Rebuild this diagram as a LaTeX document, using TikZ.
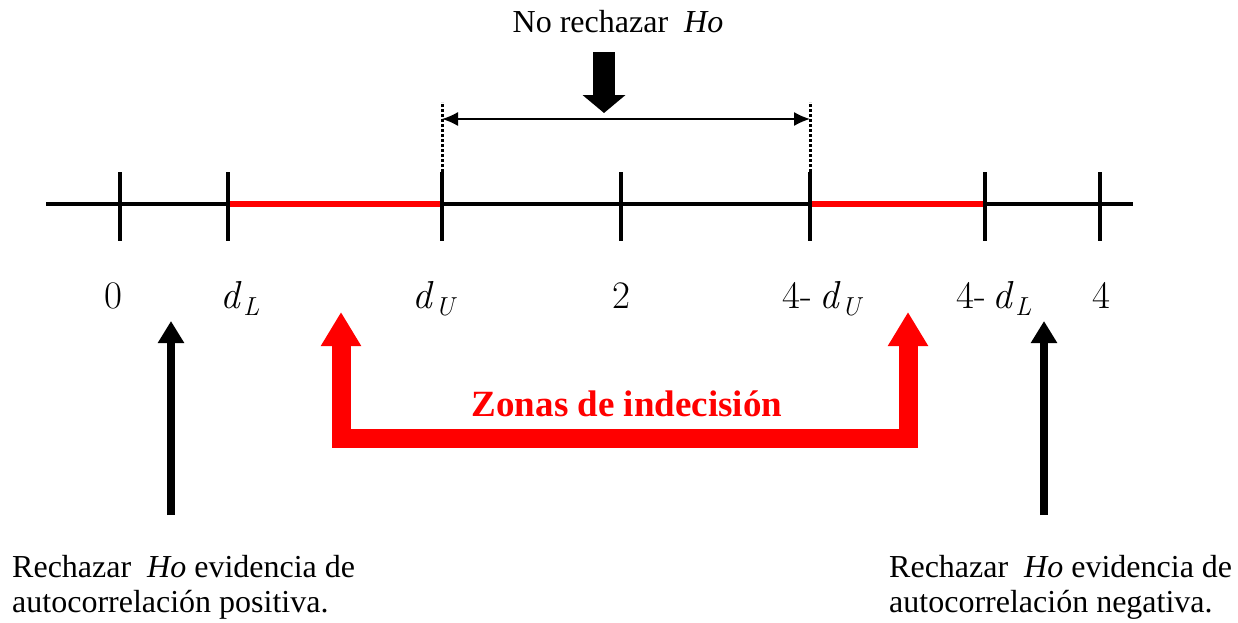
\documentclass[tikz,border=0pt]{standalone}
\usepackage{fontspec}
\usetikzlibrary{arrows.meta}
\newfontfamily\tnr{Liberation Serif}
\definecolor{zred}{RGB}{255,0,0}
\newcommand\dsub[1]{\textit{d}\kern1pt\raisebox{-7pt}{\fontsize{26}{26}\selectfont\textit{#1}}}
\begin{document}
\begin{tikzpicture}[x=1pt,y=-1pt,
  axisline/.style={line width=3.5pt},
  tickline/.style={line width=3.5pt},
  redseg/.style={line width=6.5pt,zred},
  dotline/.style={line width=3pt,dash pattern=on 3pt off 2pt},
  numlabel/.style={anchor=base,inner sep=0pt,font=\fontsize{39}{42}\selectfont},
  txt/.style={inner sep=0pt,font=\tnr\fontsize{32}{35.5}\selectfont,align=left},
  blackup/.style={line width=8pt,-{Triangle[width=25pt,length=22pt]}},
  redbr/.style={line width=19pt,zred,miter limit=10,{Triangle[width=38pt,length=34pt]}-{Triangle[width=38pt,length=34pt]}}
]
\useasboundingbox (0,0) rectangle (1238,622);
% axis coordinates
\coordinate (aL) at (46,204);
\coordinate (aR) at (1133,204);
\foreach \n/\x in {t0/120,t1/228,t2/442,t3/621,t4/810,t5/985,t6/1100}{
  \coordinate (\n) at (\x,204);
  \coordinate (top\n) at (\x,172);
  \coordinate (bot\n) at (\x,241);
}
\draw[axisline] (aL) -- (aR);
\draw[redseg] (t1) -- (t2);
\draw[redseg] (t4) -- (t5);
\foreach \n in {t0,t1,t2,t3,t4,t5,t6}{
  \draw[tickline] (top\n) -- (bot\n);
}
% dotted guides
\coordinate (g2) at (442,102);
\coordinate (g4) at (810,102);
\draw[dotline] (topt2) -- (g2);
\draw[dotline] (topt4) -- (g4);
% double arrow
\coordinate (dL) at (442,119);
\coordinate (dR) at (810,119);
\draw[line width=1.5pt,{Latex[length=16pt,width=14pt]}-{Latex[length=16pt,width=14pt]}] (dL) -- (dR);
% top label and down arrow
\node[txt,anchor=base] (norech) at (618,32) {No rechazar\ \ \textit{Ho}};
\coordinate (dnS) at (604,52);
\coordinate (dnE) at (604,113);
\draw[line width=22pt,-{Triangle[width=42pt,length=18pt]}] (dnS) -- (dnE);
% axis labels
\node[numlabel] (l0) at (113,308) {0};
\node[numlabel] (l1) at (240,308) {\dsub{L}};
\node[numlabel] (l2) at (435,308) {\dsub{U}};
\node[numlabel] (l3) at (621,308) {2};
\node[numlabel] (l4) at (823,308) {4-\,\dsub{U}};
\node[numlabel] (l5) at (994,308) {4-\,\dsub{L}};
\node[numlabel] (l6) at (1101,308) {4};
% black arrows
\coordinate (bl1) at (171,515);
\coordinate (bl2) at (171,321);
\coordinate (br1) at (1044,515);
\coordinate (br2) at (1044,321);
\draw[blackup] (bl1) -- (bl2);
\draw[blackup] (br1) -- (br2);
% red bracket
\coordinate (r1) at (341,312);
\coordinate (r2) at (341,438);
\coordinate (r3) at (908,438);
\coordinate (r4) at (908,312);
\draw[redbr] (r1) -- (r2) -- (r3) -- (r4);
\node[anchor=base,inner sep=0pt,text=zred,font=\tnr\bfseries\fontsize{37}{40}\selectfont] (zonas) at (627,416) {Zonas de indecisión};
% bottom texts
\node[txt,anchor=north west] (posit) at (12,555) {Rechazar\ \ \textit{Ho} evidencia de\\autocorrelación positiva.};
\node[txt,anchor=north west] (negat) at (889,555) {Rechazar\ \ \textit{Ho} evidencia de\\autocorrelación negativa.};
\end{tikzpicture}
\end{document}
